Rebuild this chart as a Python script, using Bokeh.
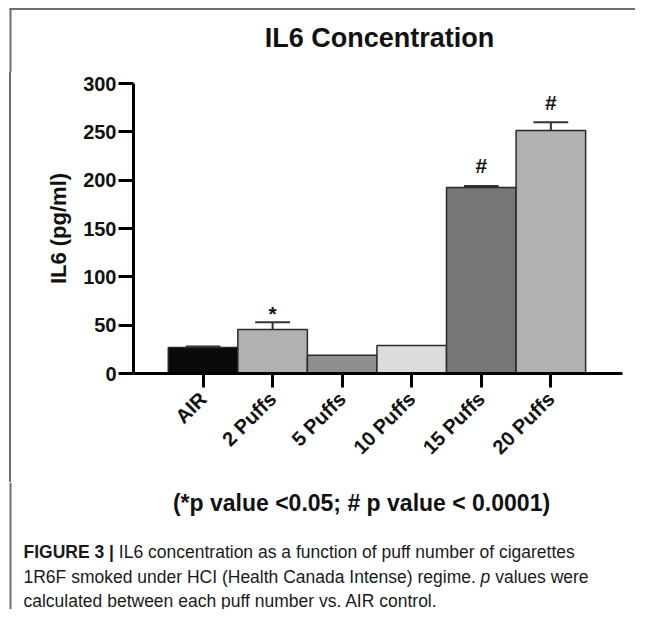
from math import pi
from bokeh.plotting import figure
from bokeh.layouts import column, row
from bokeh.models import ColumnDataSource, Range1d, FixedTicker, Spacer
from bokeh.core.properties import value
from bokeh.embed import file_html
from bokeh.resources import INLINE

# ---------------- data ----------------
groups = ["AIR", "2 Puffs", "5 Puffs", "10 Puffs", "15 Puffs", "20 Puffs"]
il6_mean = [27.0, 45.5, 19.0, 29.0, 192.5, 251.5]
il6_sd = [1.0, 7.5, 0.0, 0.0, 1.5, 8.5]
sig_marks = ["", "*", "", "", "#", "#"]
bar_colors = ["#0a0a0a", "#b1b1b1", "#8e8e8e", "#dcdcdc", "#767676", "#b1b1b1"]
y_ticks = [0, 50, 100, 150, 200, 250, 300]

title_text = "IL6 Concentration"
y_label = "IL6 (pg/ml)"
footnote = "(*p value <0.05; # p value < 0.0001)"
cap1_bold = "FIGURE 3 |"
cap1_rest = "IL6 concentration as a function of puff number of cigarettes"
cap2_a = "1R6F smoked under HCI (Health Canada Intense) regime."
cap2_p = "p"
cap2_b = "values were"
cap3 = "calculated between each puff number vs. AIR control."

FONT = "Liberation Sans"
BORDER = "#6e6e6e"

# ---------------- layout sizes ----------------
W = 635
TOP_H, MID_H, BOT_H = 72, 410, 127
GAP_W, LINE_W = 9, 2
CH_W = W - GAP_W - LINE_W


def blank(width, height):
    f = figure(width=width, height=height, output_backend="svg", toolbar_location=None,
               x_range=Range1d(0, width), y_range=Range1d(height, 0),
               x_axis_type=None, y_axis_type=None,
               min_border=0, min_border_left=0, min_border_right=0,
               min_border_top=0, min_border_bottom=0)
    f.outline_line_color = None
    f.xgrid.grid_line_color = None
    f.ygrid.grid_line_color = None
    f.background_fill_color = "white"
    f.border_fill_color = "white"
    return f


def txt(f, x, y, s, size, style="normal", align="left", color="#1a1a1a"):
    f.text(x=[x], y=[y], text=[s], text_font=value(FONT), text_font_size=size,
           text_font_style=style, text_align=align, text_baseline="middle", text_color=color)


# ---- top: title + frame border ----
top = blank(W, TOP_H)
top.segment(x0=[9], y0=[8.5], x1=[W], y1=[8.5], line_color=BORDER, line_width=2)
top.segment(x0=[10], y0=[8], x1=[10], y1=[TOP_H], line_color=BORDER, line_width=2)
txt(top, 379, 37, title_text, "27px", "bold", "center", "#111111")

# ---- left border beside the chart ----
gap = Spacer(width=GAP_W, height=MID_H)
vline = Spacer(width=LINE_W, height=MID_H, styles={"background-color": BORDER})

# ---- chart ----
xs = list(range(len(groups)))
err_top = [m + s for m, s in zip(il6_mean, il6_sd)]
mark_off = [-9 if m == "*" else -20 for m in sig_marks]
src = ColumnDataSource(dict(x=xs, mean=il6_mean, top=err_top, color=bar_colors,
                            mark=sig_marks, off=mark_off))
keep = [i for i, s in enumerate(il6_sd) if s > 0]
esrc = ColumnDataSource(dict(
    x=[xs[i] for i in keep],
    mean=[il6_mean[i] for i in keep],
    top=[err_top[i] for i in keep],
    cl=[xs[i] - 0.25 for i in keep],
    cr=[xs[i] + 0.25 for i in keep],
))

X0 = GAP_W + LINE_W
p = figure(width=CH_W, height=MID_H, output_backend="svg", toolbar_location=None,
           x_range=Range1d(-1.0, 6.03), y_range=Range1d(0, 300),
           min_border_left=133 - X0, min_border_right=CH_W - (622 - X0),
           min_border_top=83 - TOP_H, min_border_bottom=TOP_H + MID_H - 373)
p.background_fill_color = "white"
p.border_fill_color = "white"
p.outline_line_color = None
p.xgrid.grid_line_color = None
p.ygrid.grid_line_color = None

p.vbar(x="x", top="mean", bottom=0, width=1.0, source=src,
       fill_color="color", line_color="#2a2a2a", line_width=1.5)
p.segment(x0="x", y0="mean", x1="x", y1="top", source=esrc, line_color="#333333", line_width=2)
p.segment(x0="cl", y0="top", x1="cr", y1="top", source=esrc, line_color="#333333", line_width=2)
p.text(x="x", y="top", text="mark", source=src, y_offset="off",
       text_align="center", text_baseline="middle",
       text_font=value(FONT), text_font_style="bold", text_font_size="21px", text_color="#111111")

for ax in (p.xaxis, p.yaxis):
    ax.axis_line_width = 3
    ax.axis_line_color = "black"
    ax.major_tick_line_width = 3
    ax.major_tick_line_color = "black"
    ax.major_tick_in = 0
    ax.minor_tick_line_color = None
    ax.major_label_text_font = FONT
    ax.major_label_text_font_style = "bold"
    ax.major_label_text_font_size = "20px"
    ax.major_label_text_color = "#111111"

p.yaxis.ticker = FixedTicker(ticks=y_ticks)
p.yaxis.major_tick_out = 15
p.yaxis.major_label_standoff = 2
p.yaxis.axis_label = y_label
p.yaxis.axis_label_text_font = FONT
p.yaxis.axis_label_text_font_style = "bold"
p.yaxis.axis_label_text_font_size = "22px"
p.yaxis.axis_label_text_color = "#111111"
p.yaxis.axis_label_standoff = 9

p.xaxis.ticker = FixedTicker(ticks=xs)
p.xaxis.major_label_overrides = {x: g for x, g in zip(xs, groups)}
p.xaxis.major_label_orientation = pi / 4
p.xaxis.major_tick_out = 14
p.xaxis.major_label_standoff = 8

# ---- bottom: footnote + caption + frame border ----
bot = blank(W, BOT_H)
y0 = TOP_H + MID_H
bot.segment(x0=[10], y0=[0], x1=[10], y1=[BOT_H], line_color=BORDER, line_width=2)
txt(bot, 361, 502 - y0, footnote, "23px", "bold", "center", "#111111")

fs = 17.5
cx = 23
txt(bot, cx, 551 - y0, cap1_bold, f"{fs}px", "bold")
txt(bot, cx + (5.17 + 0.278) * fs, 551 - y0, cap1_rest, f"{fs}px")
txt(bot, cx, 576 - y0, cap2_a, f"{fs}px")
txt(bot, cx + (25.843 + 0.278) * fs, 576 - y0, cap2_p, f"{fs}px", "italic")
txt(bot, cx + (26.121 + 0.556 + 0.278) * fs, 576 - y0, cap2_b, f"{fs}px")
txt(bot, cx, 600 - y0, cap3, f"{fs}px")

layout = column(top, row(gap, vline, p, spacing=0), bot, spacing=0)

open("out.html", "w").write(file_html(layout, INLINE))
